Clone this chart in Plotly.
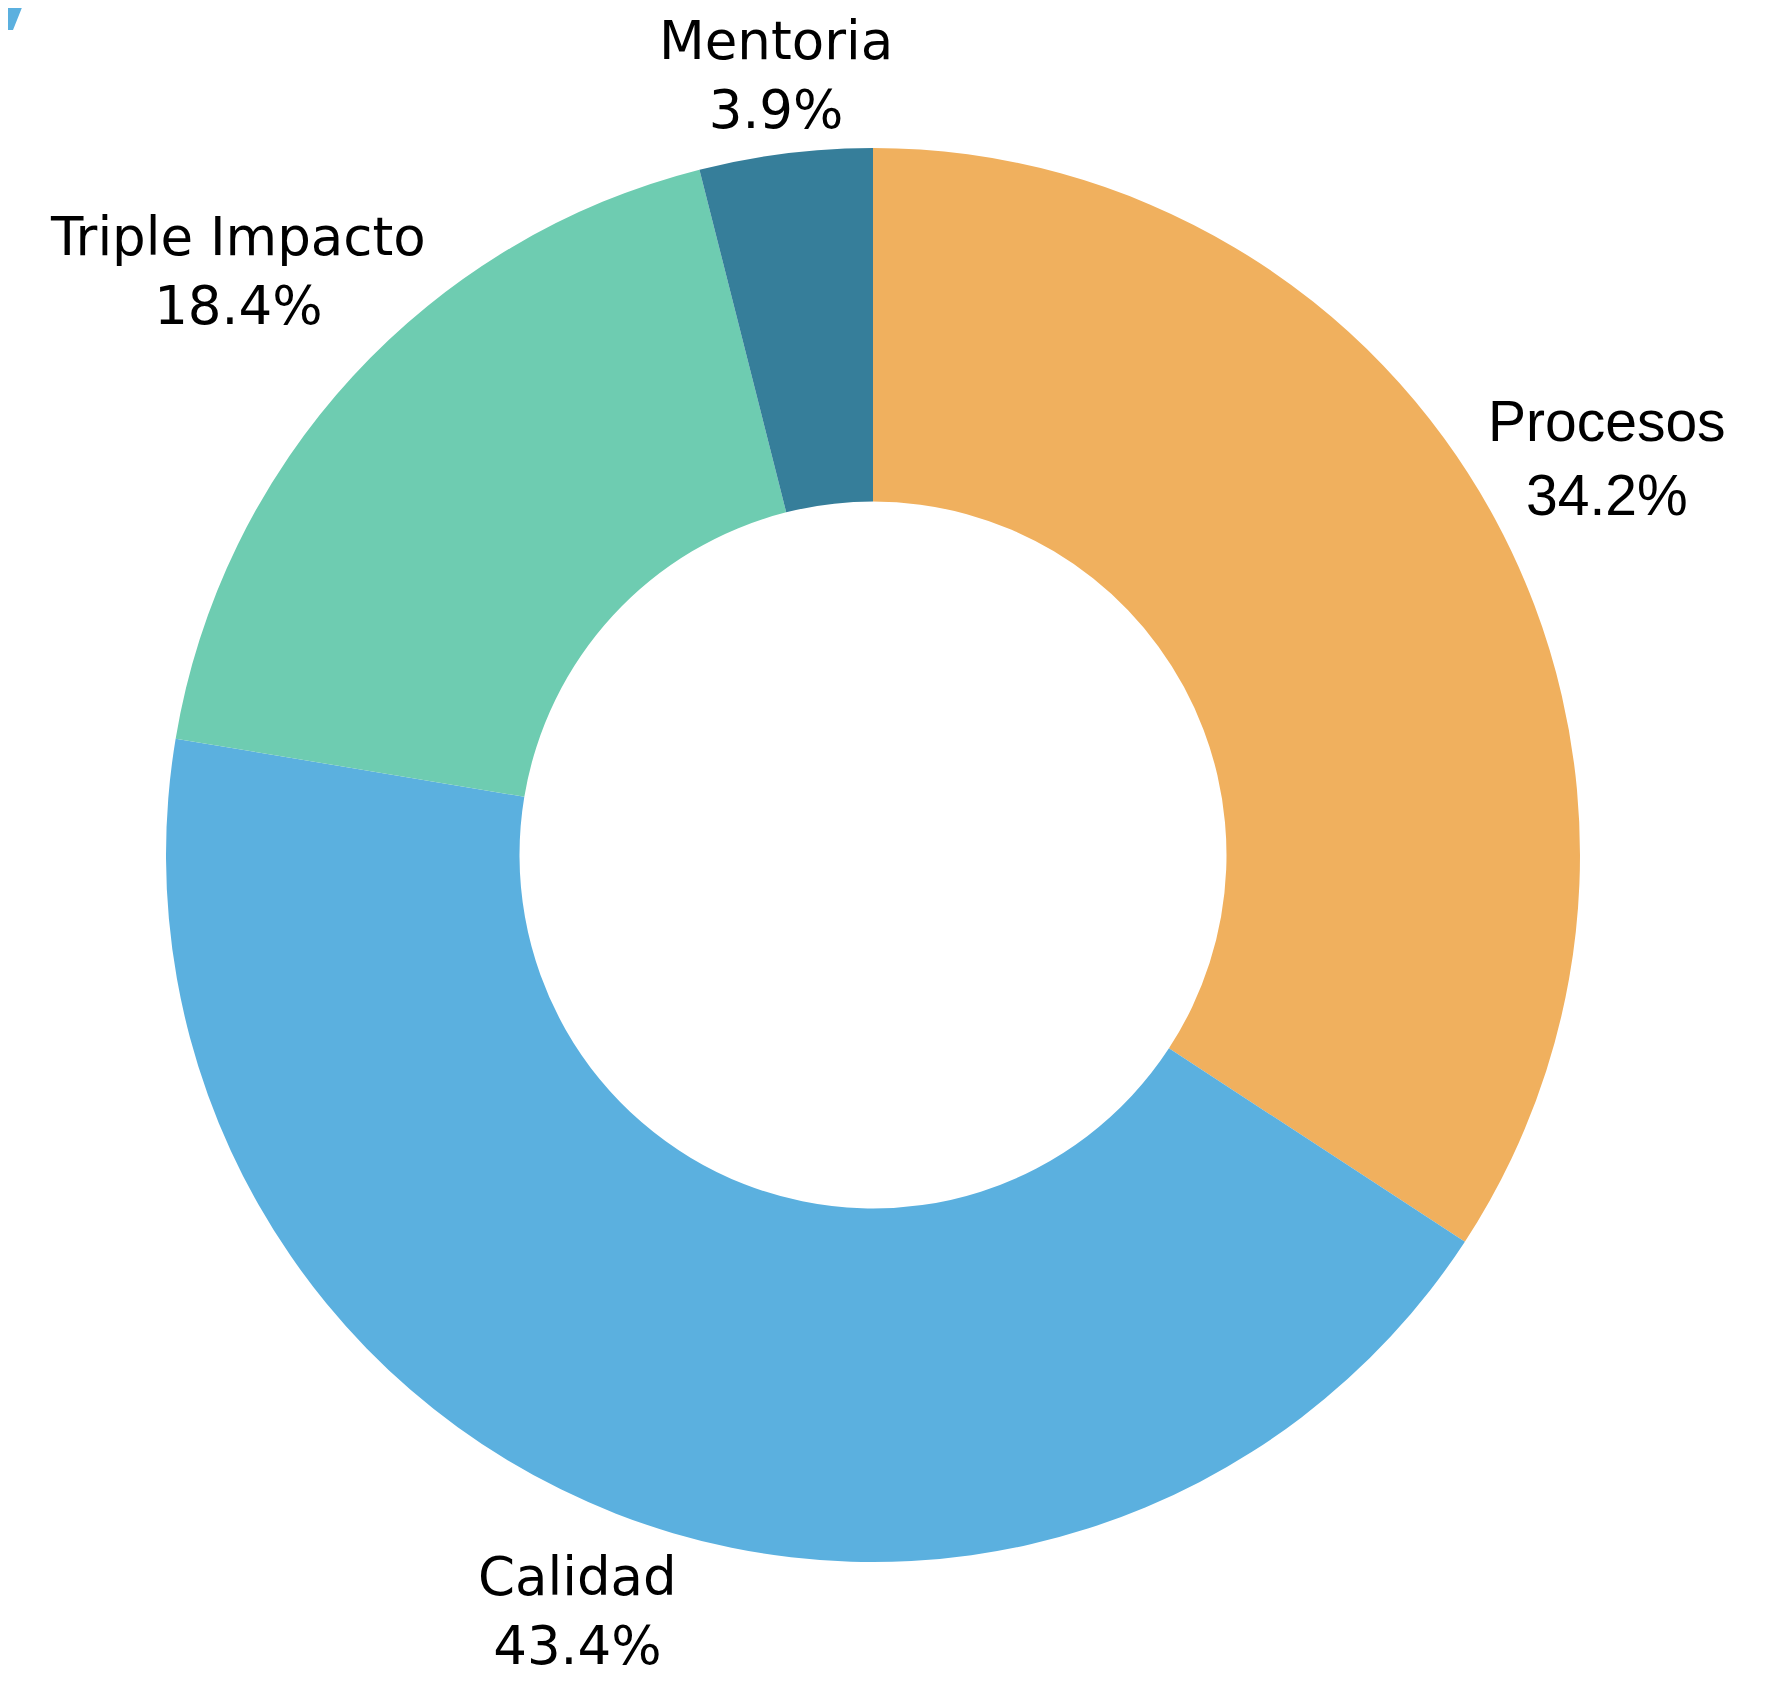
import math
import plotly.graph_objects as go

# slice data, clockwise from 12 o'clock
labels = ["Procesos", "Calidad", "Triple Impacto", "Mentoria"]
values = [26, 33, 14, 3]
colors = ["#F0B05E", "#5BB0DF", "#6ECCB1", "#367E9A"]

# label styling (the reference mixes fonts) and how far out each label sits
label_fonts = ["Liberation Sans", "DejaVu Sans", "DejaVu Sans", "DejaVu Sans"]
label_sizes = [57, 53, 53, 53]
label_dist = [1.18, 1.148, 1.22, 1.112]

W, H = 1775, 1682
margin = dict(l=158, r=203, t=140, b=128)
pw = W - margin["l"] - margin["r"]
ph = H - margin["t"] - margin["b"]


def px(x):
    return (x - margin["l"]) / pw


def py(y):
    return 1 - (y - margin["t"]) / ph


fig = go.Figure(go.Pie(
    labels=labels,
    values=values,
    hole=0.5,
    sort=False,
    direction="clockwise",
    rotation=0,
    marker=dict(colors=colors, line=dict(width=0)),
    textinfo="none",
    showlegend=False,
))

# labels centred on each slice's mid-angle ray, outside the ring
total = sum(values)
cx = margin["l"] + pw / 2
cy = margin["t"] + ph / 2
r = min(pw, ph) / 2
cum = 0
for lab, v, fam, size, d in zip(labels, values, label_fonts, label_sizes, label_dist):
    mid = (cum + v / 2) / total * 2 * math.pi
    cum += v
    x = cx + d * r * math.sin(mid)
    y = cy - d * r * math.cos(mid)
    fig.add_annotation(
        x=px(x), y=py(y), xref="paper", yref="paper",
        text=f"{lab}<br>{v / total:.1%}",
        showarrow=False, xanchor="center", yanchor="middle",
        font=dict(family=fam, size=size, color="black"),
    )

# small blue stroke cut off at the top-left corner
fig.add_shape(
    type="path",
    xref="paper", yref="paper",
    path=f"M {px(-8)},{py(-8)} L {px(17)},{py(-8)} L {px(5)},{py(22)} L {px(-8)},{py(22)} Z",
    fillcolor="#5BB0DF", line=dict(width=0), layer="above",
)

fig.update_layout(
    width=W,
    height=H,
    margin=margin,
    paper_bgcolor="white",
    plot_bgcolor="white",
    font=dict(family="DejaVu Sans", color="black"),
)

fig.write_html("out.html")
